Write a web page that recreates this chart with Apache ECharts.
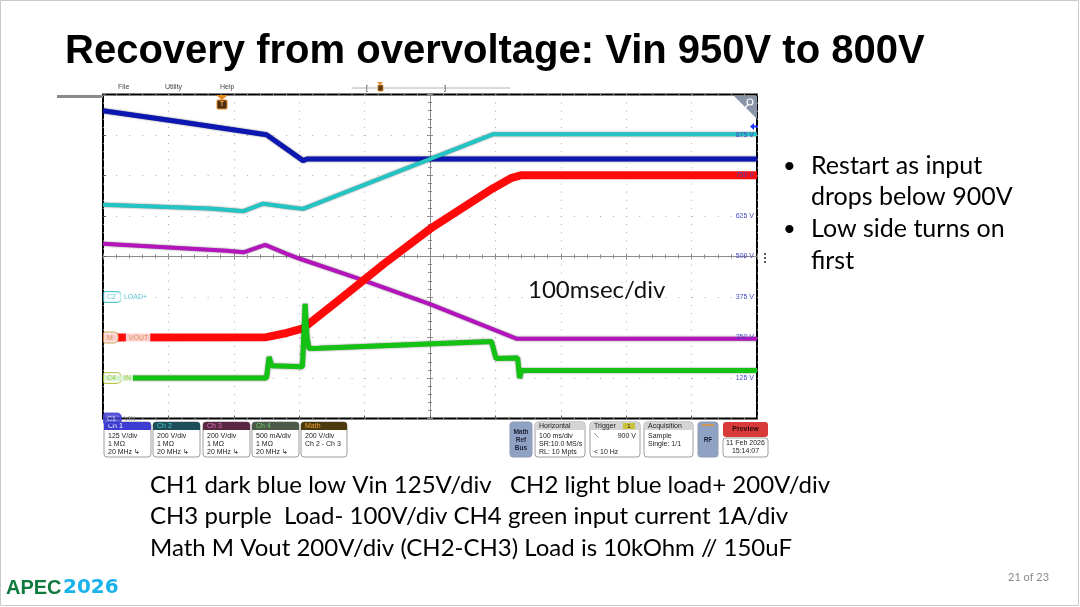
<!DOCTYPE html>
<html>
<head>
<meta charset="utf-8">
<script src="https://cdn.jsdelivr.net/npm/echarts@6/dist/echarts.min.js"></script>
<style>
  html, body { margin: 0; padding: 0; background: #fff; }
  #main { width: 1080px; height: 607px; }
</style>
</head>
<body>
<div id="main"></div>
<script>
// traces: [time ms, level on the Ch1 grid (125 V/div)]
var ch1Vin = [[0, 950], [120, 915], [250, 876], [306, 796], [312, 801], [1000, 801]];
var ch2Load = [[0, 660], [163, 648], [215, 640], [245, 663], [285, 652], [306, 647], [596, 877], [1000, 877]];
var ch3Load = [[0, 539], [189, 518], [215, 513], [248, 536], [281, 508], [301, 493], [393, 430], [500, 353], [633, 246], [1000, 246]];
var mathVout = [[0, 250], [250, 251], [281, 264], [306, 278], [362, 368], [430, 478], [500, 585], [596, 710], [625, 743], [640, 751], [1000, 751]];
var ch4Iin = [[0, 125], [250, 125], [254, 190], [258, 163], [305, 160], [309, 354], [312, 250], [315, 216], [330, 217], [505, 231], [594, 238], [601, 185], [634, 187], [637, 125], [640, 148], [1000, 148]];

// channel tags on the left edge
var tagLevels = [375, 250, 125, 0];
var tagNames = ['C2', 'M', 'C4', 'C1'];
var tagTexts = ['LOAD+', 'VOUT', 'IN', 'VIN'];
var tagColors = ['#2fb6c6', '#c08a34', '#a6b82e', '#3c3cd2'];

var chartDom = document.getElementById('main');
var myChart = echarts.init(chartDom, null, { renderer: 'canvas' });
var option;

var plotRect = { left: 103, top: 94.5, width: 654, height: 324 };
var sans = '"Liberation Sans", Arial, sans-serif';
var body = 'Lato, "Noto Sans", sans-serif';

function gridAt(extra) {
  return Object.assign({ left: plotRect.left, top: plotRect.top, width: plotRect.width, height: plotRect.height }, extra || {});
}

function crossAxis(idx, isX, inside) {
  return {
    type: 'value',
    gridIndex: idx,
    min: isX ? -5 : -4,
    max: isX ? 5 : 4,
    interval: 1,
    axisLine: { show: true, onZero: true, lineStyle: { color: '#8c8c8c', width: 1 } },
    axisTick: { show: true, inside: inside, length: 3, lineStyle: { color: '#8c8c8c' } },
    minorTick: { show: true, splitNumber: 5, length: 2, lineStyle: { color: '#8c8c8c' } },
    axisLabel: { show: false },
    splitLine: { show: false }
  };
}

function traceSeries(name, data, color, width, shadow) {
  return {
    name: name,
    type: 'line',
    data: data,
    showSymbol: false,
    symbol: 'none',
    animation: false,
    xAxisIndex: 0,
    yAxisIndex: 0,
    z: 3,
    lineStyle: {
      color: color,
      width: width,
      shadowColor: shadow ? 'rgba(0,0,0,0.55)' : 'transparent',
      shadowBlur: shadow ? 2 : 0
    }
  };
}

// scope info boxes under the plot
function infoBox(x, w, head, headFill, headColor, lines) {
  var els = [
    { type: 'rect', shape: { x: x, y: 422, width: w, height: 35, r: 3 }, style: { fill: '#fff', stroke: '#9c9c9c', lineWidth: 1 } },
    { type: 'rect', shape: { x: x, y: 422, width: w, height: 8, r: [3, 3, 0, 0] }, style: { fill: headFill } },
    { type: 'text', style: { x: x + 4, y: 426, text: head, fill: headColor, font: '7px ' + sans, verticalAlign: 'middle' } }
  ];
  lines.forEach(function (t, i) {
    els.push({ type: 'text', style: { x: x + 4, y: 436 + i * 8, text: t, fill: '#222', font: '7px ' + sans, verticalAlign: 'middle' } });
  });
  return { type: 'group', z: 100, children: els };
}

function button(x, w, text, fill) {
  return {
    type: 'group', z: 100, children: [
      { type: 'rect', shape: { x: x, y: 422, width: w, height: 35, r: 3 }, style: { fill: fill, stroke: '#8c9ab4' } },
      { type: 'text', style: { x: x + w / 2, y: 440, text: text, fill: '#1c2236', font: 'bold 6.5px ' + sans, align: 'center', verticalAlign: 'middle', lineHeight: 8 } }
    ]
  };
}

function slideText(x, y, text, size, extra) {
  return { type: 'text', z: 50, style: Object.assign({ x: x, y: y, text: text, fill: '#000', font: size + 'px ' + body, verticalAlign: 'middle' }, extra || {}) };
}

var graphics = [
  { type: 'rect', z: 0, shape: { x: 0.5, y: 0.5, width: 1078, height: 605 }, style: { fill: 'none', stroke: '#c9c9c9' } },
  { type: 'text', z: 50, style: { x: 65, y: 52, text: 'Recovery from overvoltage: Vin 950V to 800V', fill: '#000', font: 'bold 40px ' + sans, verticalAlign: 'middle' } },
  { type: 'rect', z: 50, shape: { x: 57, y: 95, width: 46, height: 3 }, style: { fill: '#8a8a8a' } },
  // menu bar
  { type: 'text', z: 50, style: { x: 118, y: 87, text: 'File', fill: '#444', font: '7px ' + sans, verticalAlign: 'middle' } },
  { type: 'text', z: 50, style: { x: 165, y: 87, text: 'Utility', fill: '#444', font: '7px ' + sans, verticalAlign: 'middle' } },
  { type: 'text', z: 50, style: { x: 220, y: 87, text: 'Help', fill: '#444', font: '7px ' + sans, verticalAlign: 'middle' } },
  { type: 'line', z: 50, shape: { x1: 352, y1: 88, x2: 510, y2: 88 }, style: { stroke: '#b4b4b4', lineWidth: 1 } },
  { type: 'text', z: 51, style: { x: 367, y: 88, text: '[', fill: '#333', font: '7px ' + sans, align: 'center', verticalAlign: 'middle' } },
  { type: 'text', z: 51, style: { x: 445, y: 88, text: ']', fill: '#333', font: '7px ' + sans, align: 'center', verticalAlign: 'middle' } },
  { type: 'polygon', z: 51, shape: { points: [[377, 82], [383, 82], [380, 85]] }, style: { fill: '#e08a28' } },
  { type: 'rect', z: 51, shape: { x: 378, y: 85, width: 5, height: 6 }, style: { fill: '#5a3a14', stroke: '#e08a28', lineWidth: 0.8 } },
  // trigger marker
  { type: 'polygon', z: 60, shape: { points: [[216, 95], [228, 95], [222, 100]] }, style: { fill: '#e88a24' } },
  { type: 'rect', z: 60, shape: { x: 217, y: 100, width: 10, height: 9, r: 1 }, style: { fill: '#4a2e10', stroke: '#e88a24', lineWidth: 1 } },
  { type: 'text', z: 61, style: { x: 222, y: 104.5, text: 'T', fill: '#f0a040', font: 'bold 7px ' + sans, align: 'center', verticalAlign: 'middle' } },
  // zoom corner
  { type: 'polygon', z: 60, shape: { points: [[734, 96], [757, 96], [757, 119]] }, style: { fill: '#8994a8' } },
  { type: 'circle', z: 61, shape: { cx: 750, cy: 102, r: 3 }, style: { fill: 'none', stroke: '#fff', lineWidth: 1.2 } },
  { type: 'line', z: 61, shape: { x1: 748, y1: 104.5, x2: 745, y2: 108 }, style: { stroke: '#fff', lineWidth: 1.4 } },
  // ch1 offset arrow on the right
  { type: 'polygon', z: 60, shape: { points: [[750, 126.5], [754, 123], [754, 125.5], [758, 125.5], [758, 127.5], [754, 127.5], [754, 130]] }, style: { fill: '#2032ff' } },
  { type: 'circle', z: 60, shape: { cx: 765, cy: 254, r: 1 }, style: { fill: '#222' } },
  { type: 'circle', z: 60, shape: { cx: 765, cy: 258, r: 1 }, style: { fill: '#222' } },
  { type: 'circle', z: 60, shape: { cx: 765, cy: 262, r: 1 }, style: { fill: '#222' } },
  // bottom info bar
  infoBox(104, 47, 'Ch 1', '#3c3cd2', '#ffffff', ['125 V/div', '1 M\u03a9', '20 MHz \u21b3']),
  infoBox(153, 47, 'Ch 2', '#1f4d5a', '#45c8d2', ['200 V/div', '1 M\u03a9', '20 MHz \u21b3']),
  infoBox(203, 47, 'Ch 3', '#5a2840', '#e070c4', ['200 V/div', '1 M\u03a9', '20 MHz \u21b3']),
  infoBox(252, 47, 'Ch 4', '#4d5a4a', '#64d064', ['500 mA/div', '1 M\u03a9', '20 MHz \u21b3']),
  infoBox(301, 46, 'Math', '#4a3a0e', '#f0a030', ['200 V/div', 'Ch 2 - Ch 3']),
  button(510, 22, 'Math\nRef\nBus', '#8fa2c4'),
  infoBox(535, 50, 'Horizontal', '#d4d4d4', '#222', ['100 ms/div', 'SR:10.0 MS/s', 'RL: 10 Mpts']),
  infoBox(590, 50, 'Trigger', '#d4d4d4', '#222', ['\u27cd', '', '< 10 Hz']),
  { type: 'text', z: 101, style: { x: 636, y: 436, text: '900 V', fill: '#222', font: '7px ' + sans, align: 'right', verticalAlign: 'middle' } },
  { type: 'rect', z: 101, shape: { x: 623, y: 423, width: 12, height: 6 }, style: { fill: '#c9c23a' } },
  { type: 'text', z: 102, style: { x: 629, y: 426, text: '1', fill: '#222', font: '6px ' + sans, align: 'center', verticalAlign: 'middle' } },
  infoBox(644, 49, 'Acquisition', '#d4d4d4', '#222', ['Sample', 'Single: 1/1']),
  button(698, 20, 'RF', '#8fa2c4'),
  { type: 'line', z: 101, shape: { x1: 702, y1: 425, x2: 714, y2: 425 }, style: { stroke: '#e8902c', lineWidth: 1.5 } },
  { type: 'rect', z: 100, shape: { x: 723, y: 422, width: 45, height: 15, r: 3 }, style: { fill: '#d83a3a' } },
  { type: 'text', z: 101, style: { x: 745.5, y: 429.5, text: 'Preview', fill: '#2a0808', font: 'bold 7px ' + sans, align: 'center', verticalAlign: 'middle' } },
  { type: 'rect', z: 100, shape: { x: 723, y: 438, width: 45, height: 19, r: 3 }, style: { fill: '#fff', stroke: '#9c9c9c' } },
  { type: 'text', z: 101, style: { x: 745.5, y: 443.5, text: '11 Feb 2026', fill: '#222', font: '7px ' + sans, align: 'center', verticalAlign: 'middle' } },
  { type: 'text', z: 101, style: { x: 745.5, y: 451.5, text: '15:14:07', fill: '#222', font: '7px ' + sans, align: 'center', verticalAlign: 'middle' } },
  // slide text
  slideText(528, 290, '100msec/div', 24, { fill: '#111' }),
  slideText(783, 166, '\u2022', 22),
  slideText(811, 166, 'Restart as input', 25),
  slideText(811, 197, 'drops below 900V', 25),
  slideText(783, 229, '\u2022', 22),
  slideText(811, 229, 'Low side turns on', 25),
  slideText(811, 261, 'first', 25),
  slideText(150, 485, 'CH1 dark blue low Vin 125V/div   CH2 light blue load+ 200V/div', 24),
  slideText(150, 516, 'CH3 purple  Load- 100V/div CH4 green input current 1A/div', 24),
  slideText(150, 548, 'Math M Vout 200V/div (CH2-CH3) Load is 10kOhm // 150uF', 24),
  slideText(1008, 577, '21 of 23', 11, { fill: '#8a8a8a' }),
  { type: 'text', z: 50, style: { x: 6, y: 588, text: 'APEC', fill: '#0f7a3e', font: 'bold 20px ' + sans, verticalAlign: 'middle' } },
  { type: 'text', z: 50, style: { x: 63, y: 588, text: '2026', fill: '#1ab2ea', font: 'bold 20px "DejaVu Sans", sans-serif', verticalAlign: 'middle' } }
];

var tagData = tagLevels.map(function (lvl, i) {
  var c = tagColors[i];
  var filled = i === 3;
  return {
    value: [0, lvl],
    label: {
      show: true,
      position: 'right',
      distance: 1,
      formatter: i === 1 ? '{b|' + tagNames[i] + '}{g| }{t|' + tagTexts[i] + '}' : '{b|' + tagNames[i] + '}{t|' + tagTexts[i] + '}',
      rich: {
        b: {
          fontSize: 7, fontFamily: sans,
          color: filled ? '#fff' : c,
          backgroundColor: filled ? c : '#fff',
          borderColor: c, borderWidth: 1, borderRadius: [1, 4, 4, 1],
          padding: [2, 5, 1, 3]
        },
        g: { width: 8, fontSize: 7 },
        t: {
          fontSize: 7, fontFamily: sans,
          color: filled ? '#888' : c,
          backgroundColor: filled ? 'transparent' : '#fff',
          padding: [2, 2, 1, 3]
        }
      }
    }
  };
});

option = {
  backgroundColor: '#fff',
  animation: false,
  grid: [
    gridAt({ show: true, backgroundColor: '#fff', borderColor: '#000', borderWidth: 2 }),
    gridAt(),
    gridAt(),
    gridAt()
  ],
  xAxis: [
    {
      type: 'value', gridIndex: 0, min: 0, max: 1000, interval: 100,
      axisLine: { show: false },
      axisTick: { show: true, inside: true, length: 3, lineStyle: { color: '#555' } },
      axisLabel: { show: false },
      splitLine: { show: true, lineStyle: { color: '#a8a8a8', width: 1, type: [1, 7.1] } }
    },
    crossAxis(1, true, false),
    crossAxis(2, true, true),
    { type: 'value', gridIndex: 3, min: 0, max: 1000, show: false }
  ],
  yAxis: [
    {
      type: 'value', gridIndex: 0, min: 0, max: 1000, interval: 125,
      axisLine: { show: false },
      axisTick: { show: true, inside: true, length: 3, lineStyle: { color: '#555' } },
      axisLabel: { show: false },
      splitLine: { show: true, lineStyle: { color: '#a8a8a8', width: 1, type: [1, 12.08] } }
    },
    crossAxis(1, false, false),
    crossAxis(2, false, true),
    {
      type: 'value', gridIndex: 3, position: 'right', min: 0, max: 1000, interval: 125, z: 20,
      axisLine: { show: false }, axisTick: { show: false }, splitLine: { show: false },
      axisLabel: {
        inside: true, margin: 3, color: '#4848c8', fontSize: 7, fontFamily: sans,
        formatter: function (v) { return v > 0 && v < 1000 ? v + ' V' : ''; }
      }
    }
  ],
  series: [
    traceSeries('Ch1', ch1Vin, '#0c16b0', 5, true),
    traceSeries('Ch2', ch2Load, '#22c4c4', 4, true),
    traceSeries('Ch3', ch3Load, '#b414bc', 4, true),
    traceSeries('Math', mathVout, '#ff0a0a', 8, false),
    traceSeries('Ch4', ch4Iin, '#14c214', 5, true),
    {
      name: 'tags',
      type: 'scatter',
      xAxisIndex: 0,
      yAxisIndex: 0,
      symbolSize: 0,
      z: 10,
      data: tagData
    }
  ],
  graphic: graphics
};

option && myChart.setOption(option);
</script>
</body>
</html>
